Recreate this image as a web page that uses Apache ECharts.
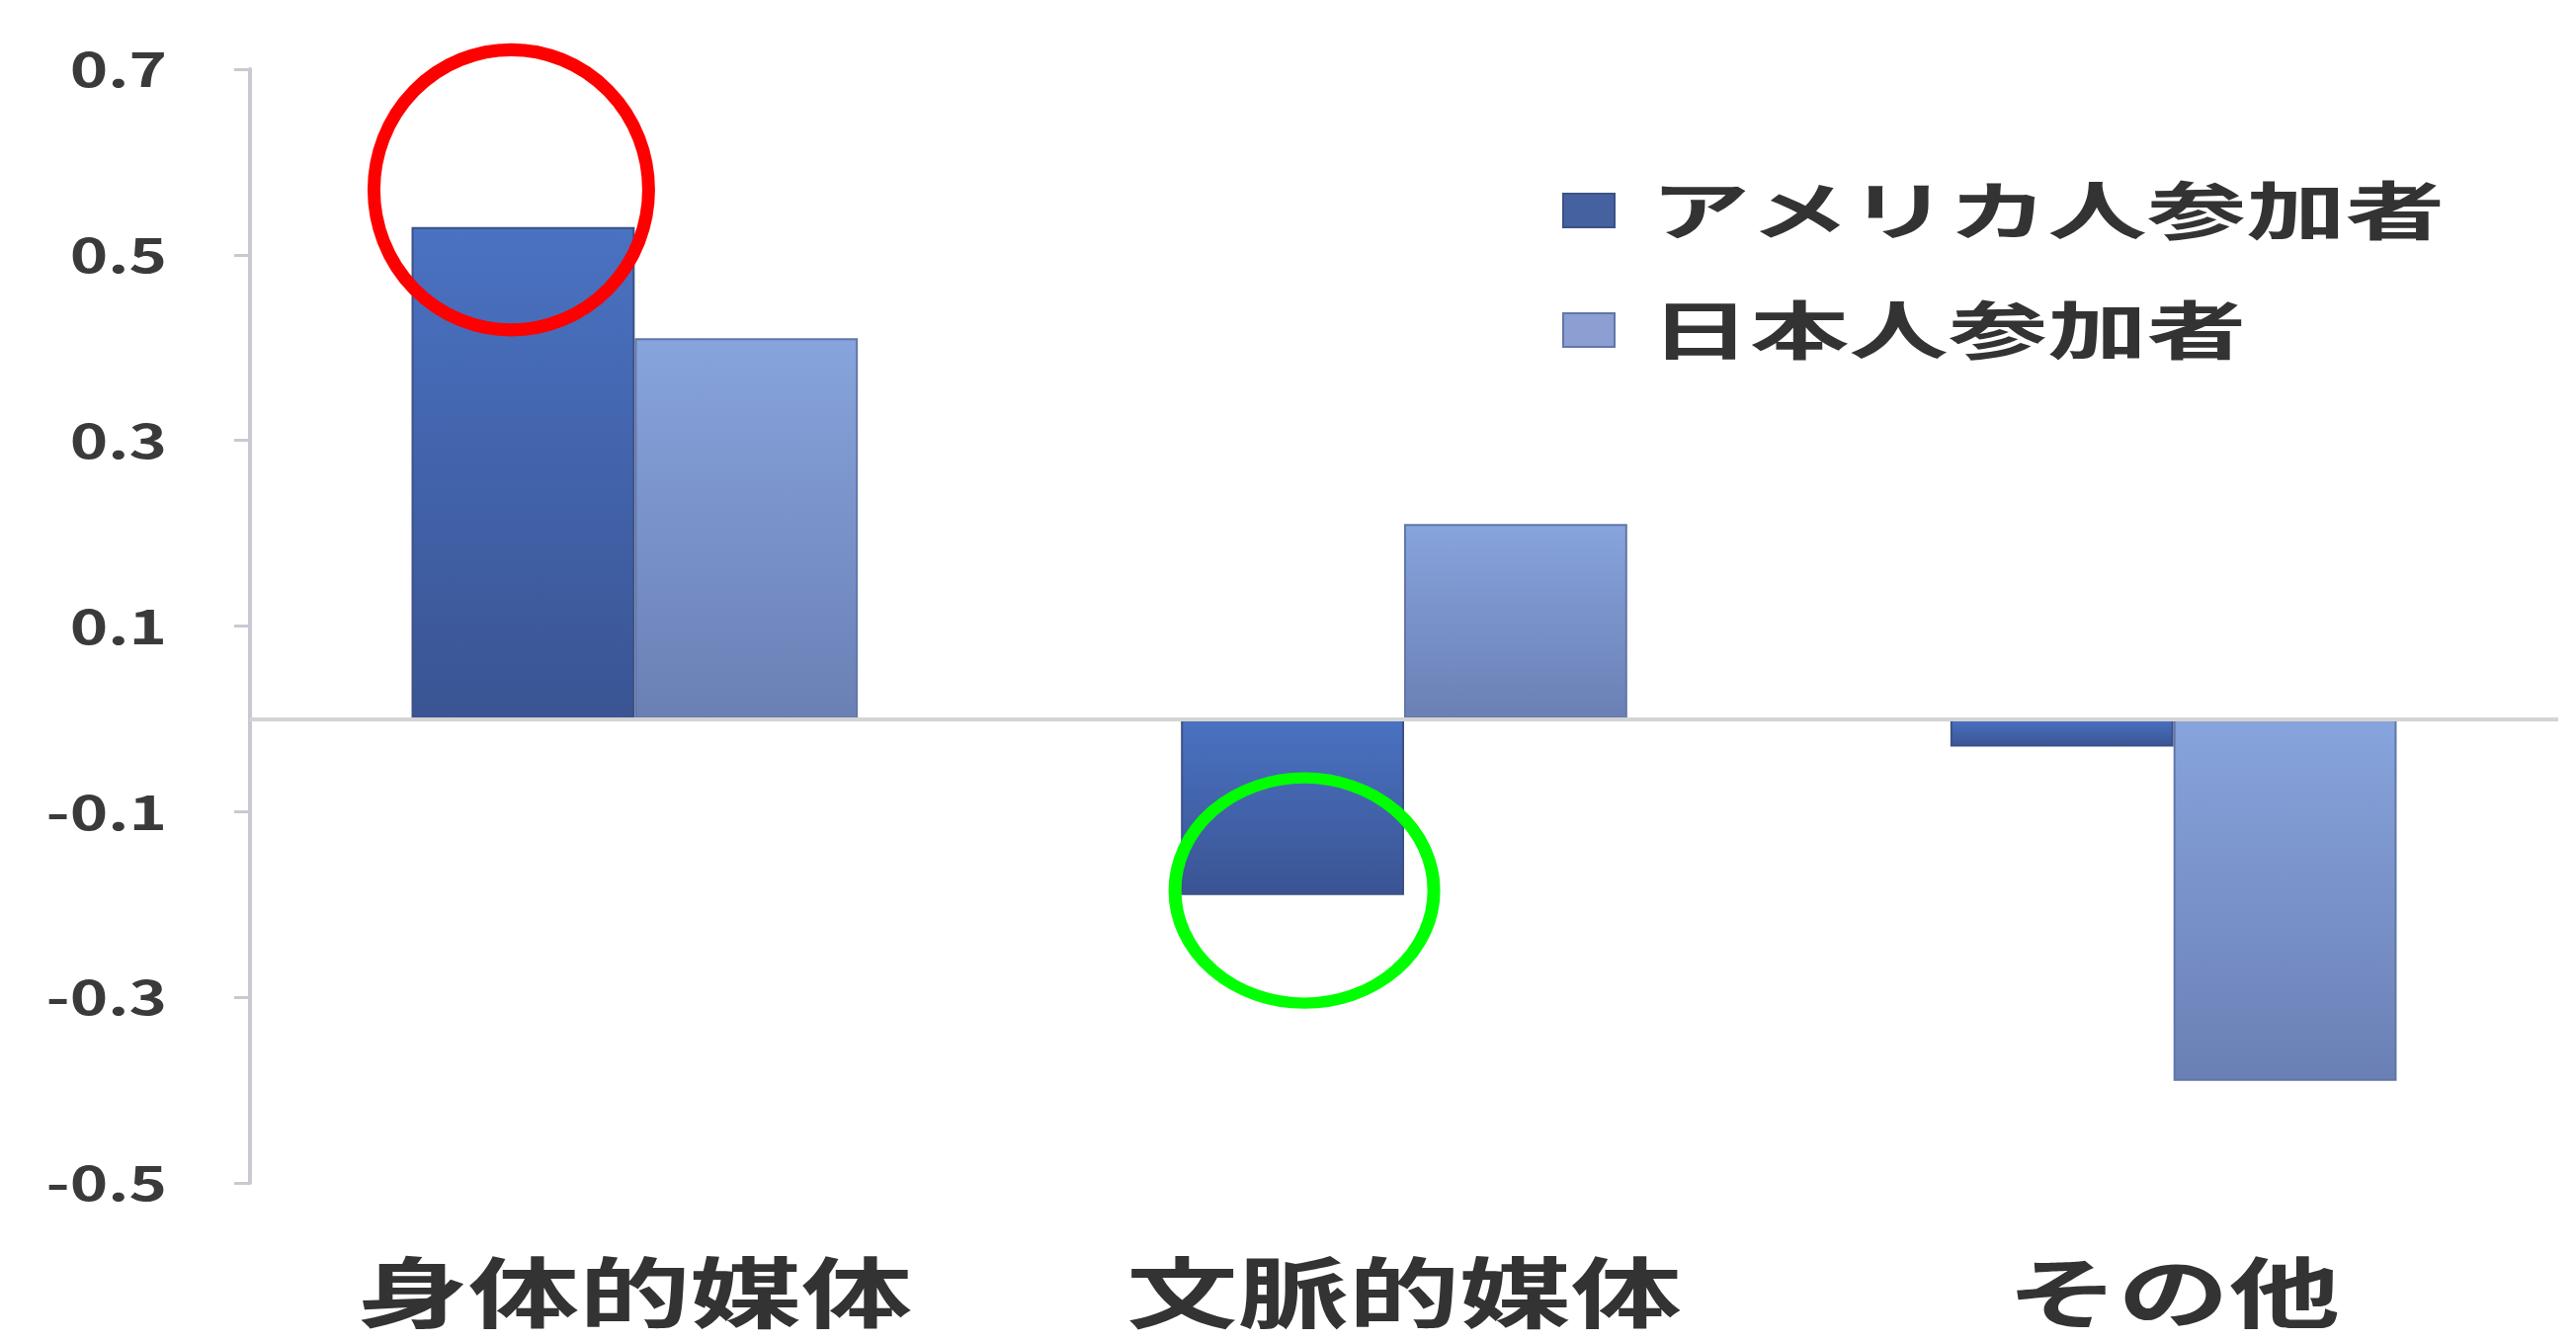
<!DOCTYPE html>
<html>
<head>
<meta charset="utf-8">
<script src="https://cdn.jsdelivr.net/npm/echarts@6/dist/echarts.min.js"></script>
<style>
html,body{margin:0;padding:0;background:#fff;}
#chart{width:2607px;height:1357px;}
</style>
</head>
<body>
<div id="chart"></div>
<script>
var categories = ['身体的媒体', '文脈的媒体', 'その他'];
var seriesNames = ['アメリカ人参加者', '日本人参加者'];
var americanValues = [0.53, -0.19, -0.03];
var japaneseValues = [0.41, 0.21, -0.39];
var yTicks = [-0.5, -0.3, -0.1, 0.1, 0.3, 0.5, 0.7];

var FONT = '"Noto Sans CJK JP", "Noto Sans", sans-serif';
var chart = echarts.init(document.getElementById('chart'));

function grad(top, bottom) {
  return new echarts.graphic.LinearGradient(0, 0, 0, 1, [
    {offset: 0, color: top}, {offset: 1, color: bottom}
  ]);
}
function fmt(v) { return (Math.round(v * 10) / 10).toFixed(1); }

var option = {
  backgroundColor: '#ffffff',
  animation: false,
  grid: {left: 253, right: 18, top: 70, bottom: 160, containLabel: false},
  legend: {
    orient: 'vertical',
    left: 1576,
    top: 176,
    itemWidth: 52,
    itemHeight: 34,
    itemGap: 57,
    icon: 'rect',
    textStyle: {fontFamily: FONT, fontSize: 64, fontWeight: 'bold', color: '#333', lineHeight: 64, padding: [0, 0, 0, 20]},
    data: [
      {name: seriesNames[0], itemStyle: {color: '#46619f'}},
      {name: seriesNames[1], itemStyle: {color: '#8c9fd2'}}
    ]
  },
  xAxis: {
    type: 'category',
    data: categories,
    axisLine: {show: false},
    axisTick: {show: false},
    axisLabel: {margin: 72, fontFamily: FONT, fontSize: 78, fontWeight: 'bold', color: '#333'}
  },
  yAxis: {
    type: 'value',
    min: yTicks[0],
    max: yTicks[yTicks.length - 1],
    interval: 0.2,
    splitLine: {show: false},
    axisLine: {show: true, lineStyle: {color: '#c9c9d3', width: 4}},
    axisTick: {show: true, length: 16, lineStyle: {color: '#c9c9d3', width: 3}},
    axisLabel: {
      margin: 84,
      fontFamily: FONT, fontSize: 48, fontWeight: 'bold', color: '#3a3a3a',
      formatter: fmt
    }
  },
  series: [
    {
      name: seriesNames[0],
      type: 'bar',
      data: americanValues,
      barGap: '0%',
      barCategoryGap: '42%',
      itemStyle: {color: grad('#4a72c2', '#3a5493'), borderColor: '#3d5186', borderWidth: 2},
      markLine: {
        silent: true,
        symbol: ['none', 'none'],
        label: {show: false},
        lineStyle: {color: '#d4d4d4', width: 4, type: 'solid'},
        data: [{yAxis: 0}]
      }
    },
    {
      name: seriesNames[1],
      type: 'bar',
      data: japaneseValues,
      barGap: '0%',
      barCategoryGap: '42%',
      itemStyle: {color: grad('#87a4dc', '#6a80b5'), borderColor: '#6276a8', borderWidth: 2}
    }
  ]
};
chart.setOption(option);

// Annotation ellipses placed from the library's own bar layouts
var data0 = chart.getModel().getSeriesByIndex(0).getData();
var l0 = data0.getItemLayout(0);
var l1 = data0.getItemLayout(1);
var c0x = l0.x + l0.width / 2 - 12;
var c0y = chart.convertToPixel({yAxisIndex: 0}, 0.57);
var c1x = l1.x + l1.width / 2 + 12;
var c1y = chart.convertToPixel({yAxisIndex: 0}, -0.185);
chart.setOption({
  graphic: [
    {type: 'circle', x: c0x, y: c0y, scaleX: 1.0, scaleY: 1.02, shape: {cx: 0, cy: 0, r: 139},
     style: {fill: 'none', stroke: '#ff0000', lineWidth: 13}, z: 100},
    {type: 'circle', x: c1x, y: c1y, scaleX: 1.0, scaleY: 0.87, shape: {cx: 0, cy: 0, r: 131},
     style: {fill: 'none', stroke: '#00ff00', lineWidth: 13}, z: 100}
  ]
});

// The reference's lettering is horizontally stretched; widen the library's own text elements.
var stretch = {};
categories.forEach(function (c) { stretch[c] = 1.44; });
seriesNames.forEach(function (s) { stretch[s] = 1.57; });
yTicks.forEach(function (t) { stretch[fmt(t)] = 1.36; });
var zr = chart.getZr();
function walk(el) {
  if (el.type === 'text' && el.style && stretch[el.style.text]) {
    el.originX = el.style.x || 0;
    el.originY = el.style.y || 0;
    el.scaleX = stretch[el.style.text];
    el.markRedraw();
    return;
  }
  if (el.isGroup && el.eachChild) {
    el.eachChild(walk);
  }
}
zr.storage.getRoots().forEach(walk);
zr.refreshImmediately();
</script>
</body>
</html>
